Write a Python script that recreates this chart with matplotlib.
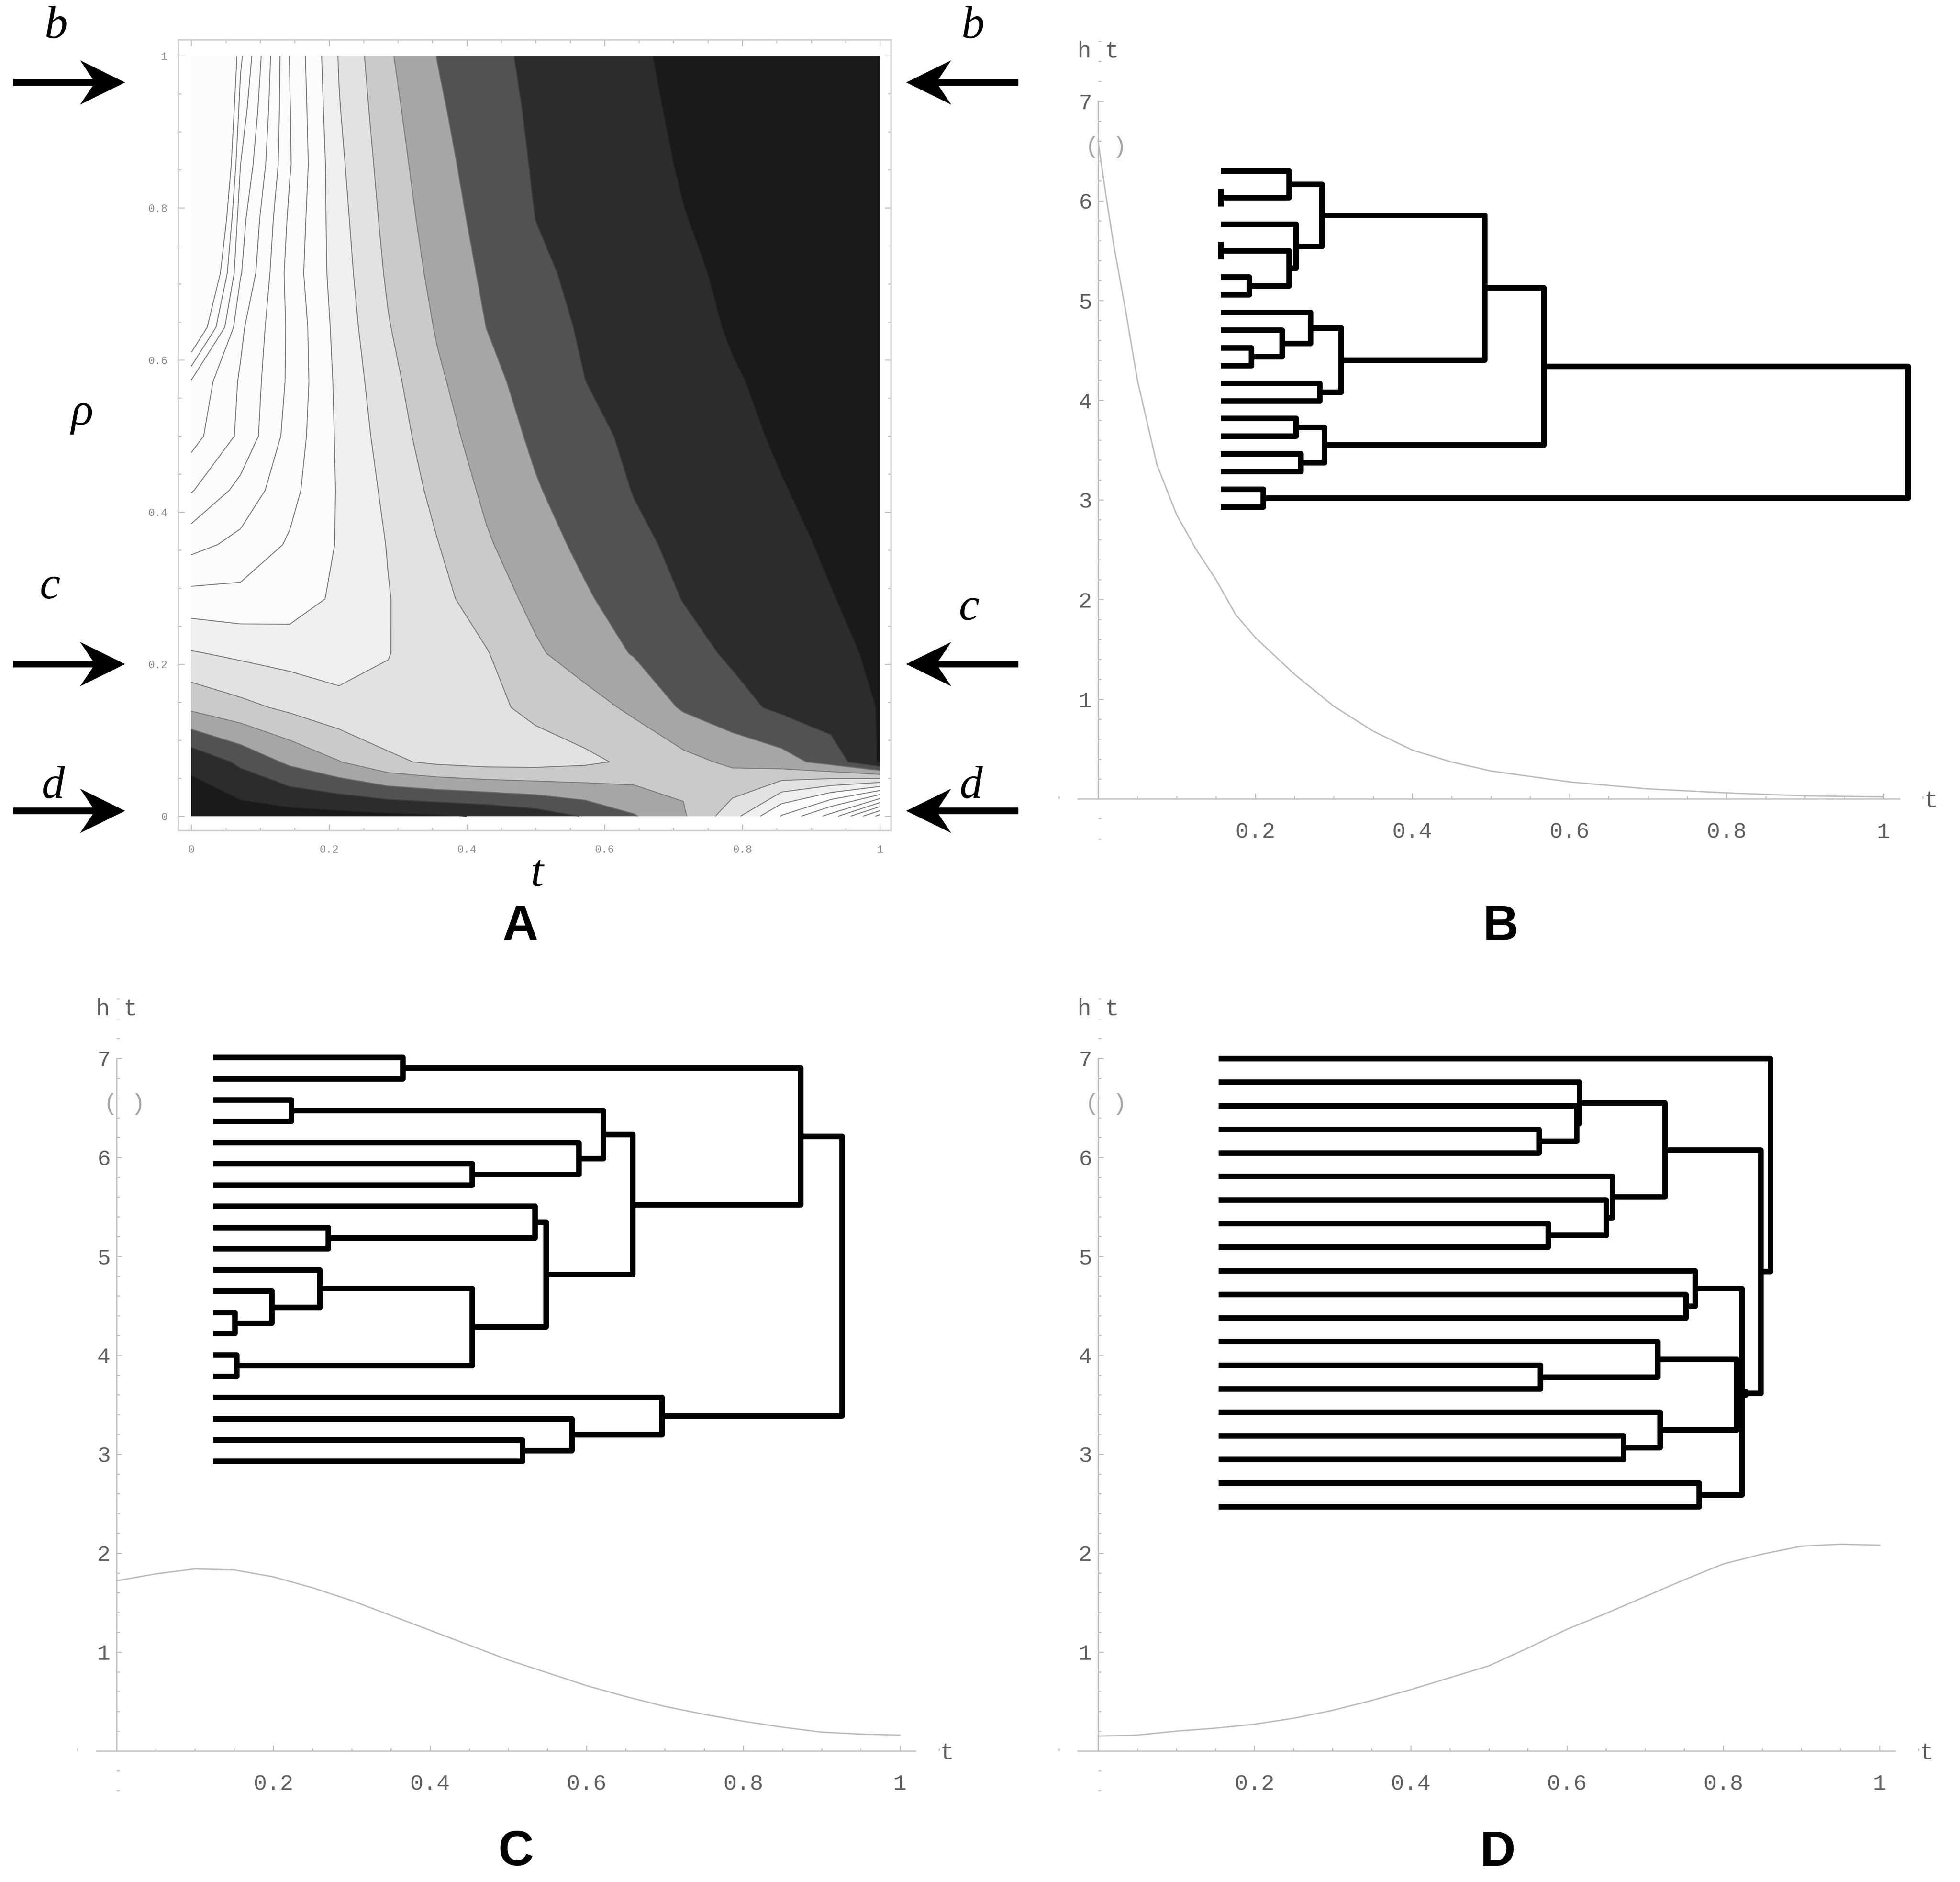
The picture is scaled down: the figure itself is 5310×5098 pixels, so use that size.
import numpy as np
import matplotlib
matplotlib.use("Agg")
import matplotlib.pyplot as plt
from matplotlib.patches import Polygon
from matplotlib.ticker import MultipleLocator

W_PX, H_PX, DPI = 5310, 5098, 300

# ---------------- Panel A: h(t, rho) ----------------
t_grid = [0.0, 0.0714, 0.1429, 0.2143, 0.2857, 0.3571, 0.4286, 0.5, 0.5714,
          0.6429, 0.7143, 0.7857, 0.8571, 0.9286, 1.0]
rho_grid = [0.0, 0.0714, 0.1429, 0.2143, 0.2857, 0.3571, 0.4286, 0.5, 0.5714,
            0.6429, 0.7143, 0.7857, 0.8571, 0.9286, 1.0]
h_r00 = [0.10, 0.12, 0.14, 0.16, 0.19, 0.22, 0.27, 0.36, 0.52, 0.73, 0.97, 1.40, 2.02, 2.60, 3.60]
h_r01 = [0.30, 0.55, 0.80, 0.99, 1.20, 1.30, 1.35, 1.35, 1.30, 1.20, 1.08, 0.95, 0.85, 0.65, 0.22]
h_r02 = [1.05, 1.18, 1.30, 1.42, 1.45, 1.40, 1.30, 1.20, 1.10, 0.95, 0.72, 0.58, 0.45, 0.35, 0.24]
h_r03 = [1.48, 1.55, 1.60, 1.62, 1.507, 1.386, 1.264, 1.034, 0.877, 0.734, 0.585, 0.464, 0.381, 0.298, 0.215]
h_r04 = [1.90, 1.92, 1.88, 1.699, 1.511, 1.325, 1.123, 0.935, 0.780, 0.632, 0.493, 0.414, 0.336, 0.257, 0.19]
h_r05 = [2.33, 2.18, 1.97, 1.729, 1.488, 1.259, 1.027, 0.851, 0.693, 0.549, 0.449, 0.373, 0.296, 0.225, 0.17]
h_r06 = [2.77, 2.42, 2.08, 1.725, 1.443, 1.179, 0.953, 0.770, 0.625, 0.491, 0.414, 0.336, 0.259, 0.195, 0.15]
h_r07 = [3.10, 2.70, 2.15, 1.708, 1.387, 1.105, 0.884, 0.706, 0.563, 0.456, 0.377, 0.299, 0.225, 0.17, 0.13]
h_r08 = [3.22, 2.72, 2.20, 1.686, 1.332, 1.042, 0.820, 0.650, 0.502, 0.422, 0.344, 0.266, 0.205, 0.155, 0.115]
h_r09 = [4.20, 2.80, 2.20, 1.653, 1.267, 0.977, 0.748, 0.596, 0.471, 0.391, 0.312, 0.233, 0.18, 0.135, 0.10]
h_r10 = [4.80, 3.02, 2.15, 1.620, 1.212, 0.922, 0.704, 0.545, 0.443, 0.363, 0.284, 0.215, 0.165, 0.125, 0.09]
h_r11 = [5.40, 3.10, 2.20, 1.589, 1.167, 0.873, 0.664, 0.498, 0.417, 0.337, 0.256, 0.195, 0.15, 0.115, 0.08]
h_r12 = [5.90, 3.25, 2.27, 1.554, 1.124, 0.830, 0.630, 0.479, 0.397, 0.315, 0.234, 0.18, 0.14, 0.10, 0.07]
h_r13 = [6.10, 3.40, 2.26, 1.515, 1.080, 0.787, 0.598, 0.463, 0.381, 0.298, 0.216, 0.165, 0.125, 0.09, 0.06]
h_r14 = [6.30, 3.55, 2.24, 1.483, 1.034, 0.745, 0.566, 0.448, 0.365, 0.282, 0.197, 0.15, 0.11, 0.08, 0.05]

contour_levels = [0.25, 0.5, 0.75, 1.0, 1.25, 1.5, 1.75, 2.0, 2.25, 2.5, 2.75, 3.0, 3.25, 3.5, 3.75]
shade_levels = [-1.0, 0.25, 0.5, 0.75, 1.0, 1.25, 1.5, 1.75, 10.0]
shade_colors = ['#1a1a1a', '#2c2c2c', '#525252', '#a6a6a6', '#cacaca', '#e2e2e2', '#efefef', '#fcfcfc']
A_ticks = [0, 0.2, 0.4, 0.6, 0.8, 1]
A_tick_labels = ['0', '0.2', '0.4', '0.6', '0.8', '1']
arrow_rho = [0.965, 0.2, 0.007]
arrow_names = ['b', 'c', 'd']

# ---------------- Panels B, C, D ----------------
t_ticks = [0.2, 0.4, 0.6, 0.8, 1.0]
t_tick_labels = ['0.2', '0.4', '0.6', '0.8', '1']
h_ticks = [1, 2, 3, 4, 5, 6, 7]
h_tick_labels = ['1', '2', '3', '4', '5', '6', '7']

B_curve_t = [0.0, 0.01, 0.02, 0.035, 0.05, 0.075, 0.1, 0.125, 0.15, 0.175, 0.2, 0.25,
             0.3, 0.35, 0.4, 0.45, 0.5, 0.6, 0.7, 0.8, 0.9, 1.0]
B_curve_h = [6.6, 6.05, 5.55, 4.9, 4.2, 3.35, 2.85, 2.5, 2.2, 1.85, 1.62, 1.25,
             0.93, 0.68, 0.49, 0.37, 0.28, 0.17, 0.10, 0.06, 0.03, 0.02]
B_leaf_t, B_leaf_top, B_leaf_bottom = 0.156, 6.30, 2.93
B_merge_a = [1, 0, 4, 6, 22, 3, 21, 10, 9, 8, 12, 29, 26, 14, 16, 33, 32, 18, 36]
B_merge_b = [2, 20, 5, 7, 23, 24, 25, 11, 27, 28, 13, 30, 31, 15, 17, 34, 35, 19, 37]
B_merge_t = [0.156, 0.243, 0.156, 0.192, 0.243, 0.252, 0.285, 0.195, 0.234, 0.270,
             0.282, 0.309, 0.492, 0.252, 0.258, 0.288, 0.567, 0.210, 1.031]

C_curve_t = [0.0, 0.05, 0.1, 0.15, 0.2, 0.25, 0.3, 0.35, 0.4, 0.45, 0.5, 0.55, 0.6,
             0.65, 0.7, 0.75, 0.8, 0.85, 0.9, 0.95, 1.0]
C_curve_h = [1.72, 1.79, 1.84, 1.83, 1.76, 1.65, 1.52, 1.37, 1.22, 1.07, 0.92, 0.79, 0.66,
             0.55, 0.45, 0.37, 0.30, 0.24, 0.19, 0.17, 0.16]
C_leaf_t, C_leaf_top, C_leaf_bottom = 0.123, 7.01, 2.93
C_merge_a = [0, 2, 5, 4, 21, 8, 7, 12, 11, 10, 14, 29, 26, 24, 20, 18, 17, 16, 34]
C_merge_b = [1, 3, 6, 22, 23, 9, 25, 13, 27, 28, 15, 30, 31, 32, 33, 19, 35, 36, 37]
C_merge_t = [0.365, 0.223, 0.454, 0.590, 0.621, 0.270, 0.534, 0.151, 0.198, 0.259,
             0.153, 0.454, 0.548, 0.659, 0.873, 0.518, 0.581, 0.696, 0.926]

D_curve_t = [0.0, 0.05, 0.1, 0.15, 0.2, 0.25, 0.3, 0.35, 0.4, 0.45, 0.5, 0.55, 0.6,
             0.65, 0.7, 0.75, 0.8, 0.85, 0.9, 0.95, 1.0]
D_curve_h = [0.15, 0.16, 0.20, 0.23, 0.27, 0.33, 0.41, 0.51, 0.62, 0.74, 0.86, 1.04, 1.23,
             1.39, 1.56, 1.73, 1.89, 1.99, 2.07, 2.09, 2.08]
D_leaf_t, D_leaf_top, D_leaf_bottom = 0.154, 7.0, 2.47
D_merge_a = [3, 2, 1, 7, 6, 5, 22, 10, 9, 13, 12, 16, 15, 18, 28, 30, 35, 26, 0]
D_merge_b = [4, 20, 21, 8, 23, 24, 25, 11, 27, 14, 29, 17, 31, 19, 33, 32, 34, 36, 37]
D_merge_t = [0.564, 0.612, 0.616, 0.576, 0.650, 0.658, 0.725, 0.752, 0.764, 0.566,
             0.716, 0.672, 0.719, 0.769, 0.824, 0.817, 0.829, 0.848, 0.860]

# ---------------- helpers ----------------
fig = plt.figure(figsize=(W_PX / DPI, H_PX / DPI), dpi=DPI)
fig.patch.set_facecolor('white')


def add_axes_px(left, top, right, bottom):
    return fig.add_axes([left / W_PX, 1 - bottom / H_PX,
                         (right - left) / W_PX, (bottom - top) / H_PX])


def ftext(x, y, s, **kw):
    fig.text(x / W_PX, 1 - y / H_PX, s, ha='center', va='center', **kw)


def arrow_px(x_tail, x_tip, y):
    L, Wd, s, notch = 122, 120, 18, 0.72
    d = 1 if x_tip > x_tail else -1
    pts = [(x_tip, y), (x_tip - d * L, y - Wd / 2), (x_tip - d * notch * L, y - s / 2),
           (x_tail, y - s / 2), (x_tail, y + s / 2), (x_tip - d * notch * L, y + s / 2),
           (x_tip - d * L, y + Wd / 2)]
    pts = [(px / W_PX, 1 - py / H_PX) for px, py in pts]
    fig.patches.append(Polygon(pts, closed=True, transform=fig.transFigure,
                               facecolor='black', edgecolor='none'))


serif_it = dict(family='Liberation Serif', style='italic', fontsize=30)
bold_sans = dict(family='Liberation Sans', weight='bold', fontsize=32)
mono = 'Liberation Mono'

# ---------------- Panel A ----------------
axA = add_axes_px(483, 108, 2414, 2250)
T, R = np.meshgrid(t_grid, rho_grid)
Z = np.array([h_r00, h_r01, h_r02, h_r03, h_r04, h_r05, h_r06, h_r07, h_r08,
              h_r09, h_r10, h_r11, h_r12, h_r13, h_r14])
axA.contourf(T, R, Z, levels=shade_levels, colors=shade_colors)
line_cols = ['#262626', '#3c3c3c', '#6a6a6a'] + ['#7a7a7a'] * 12
axA.contour(T, R, Z, levels=contour_levels, colors=line_cols, linewidths=0.6)
axA.set_xlim(-0.019, 1.016)
axA.set_ylim(-0.019, 1.021)
for sp in axA.spines.values():
    sp.set_color('#cfcfcf')
    sp.set_linewidth(1.0)
axA.set_xticks(A_ticks)
axA.set_xticklabels(A_tick_labels)
axA.set_yticks(A_ticks)
axA.set_yticklabels(A_tick_labels)
axA.xaxis.set_minor_locator(MultipleLocator(0.05))
axA.yaxis.set_minor_locator(MultipleLocator(0.05))
axA.tick_params(which='both', direction='in', top=True, right=True,
                color='#b8b8b8', width=0.6, labelsize=7, labelcolor='#8c8c8c')
axA.tick_params(which='major', length=4)
axA.tick_params(which='minor', length=2)
axA.tick_params(axis='x', pad=9)
axA.tick_params(axis='y', pad=7)
for lab in axA.get_xticklabels() + axA.get_yticklabels():
    lab.set_family(mono)

# arrows and labels b, c, d
fig.canvas.draw()
left_lab_x = [152, 135, 143]
right_lab_x = [2636, 2625, 2630]
lab_dy = [-150, -208, -64]
for rho, name, lx, rx, dy in zip(arrow_rho, arrow_names, left_lab_x, right_lab_x, lab_dy):
    disp = axA.transData.transform((0.0, rho))
    y_px = H_PX - disp[1]
    arrow_px(36, 339, y_px)
    arrow_px(2759, 2455, y_px)
    ftext(lx, y_px + dy, name, **serif_it)
    ftext(rx, y_px + dy + (58 if name == 'c' else 0), name, **serif_it)

ftext(1455, 2370, 't', **serif_it)
ftext(222, 1120, 'ρ', **serif_it)
ftext(1410, 2512, 'A', **bold_sans)


# ---------------- Panels B, C, D ----------------
def ht_panel(ox, oy, ux, uy, ct, ch, leaf_t, leaf_top, leaf_bottom, ma, mb, mt):
    xl, yl = (-0.08, 1.08), (-0.5, 7.6)
    ax = add_axes_px(ox + xl[0] * ux, oy - yl[1] * uy, ox + xl[1] * ux, oy - yl[0] * uy)
    ax.set_xlim(*xl)
    ax.set_ylim(*yl)
    ax.patch.set_alpha(0)
    for k in ('top', 'right'):
        ax.spines[k].set_visible(False)
    ax.spines['left'].set_position(('data', 0))
    ax.spines['bottom'].set_position(('data', 0))
    ax.spines['bottom'].set_bounds(-0.026, 1.02)
    ax.spines['left'].set_bounds(0, 7)
    for k in ('left', 'bottom'):
        ax.spines[k].set_color('#bdbdbd')
        ax.spines[k].set_linewidth(0.8)
    ax.set_xticks(t_ticks)
    ax.set_xticklabels(t_tick_labels)
    ax.set_yticks(h_ticks)
    ax.set_yticklabels(h_tick_labels)
    ax.xaxis.set_minor_locator(MultipleLocator(0.05))
    ax.yaxis.set_minor_locator(MultipleLocator(0.2))
    ax.tick_params(which='both', direction='in', color='#b5b5b5', width=0.6,
                   labelsize=14.5, labelcolor='#606060')
    ax.tick_params(which='major', length=3.5)
    ax.tick_params(which='minor', length=1.8)
    ax.tick_params(axis='x', pad=15)
    ax.tick_params(axis='y', pad=4)
    for lab in ax.get_xticklabels() + ax.get_yticklabels():
        lab.set_family(mono)
    # density curve
    ax.plot(ct, ch, color='#bcbcbc', lw=0.9, clip_on=False)
    # dendrogram
    n = len(ma) + 1
    pos = list(np.linspace(leaf_top, leaf_bottom, n))
    hgt = [leaf_t] * n
    for a, b, m in zip(ma, mb, mt):
        ax.plot([hgt[a], m, m, hgt[b]], [pos[a], pos[a], pos[b], pos[b]],
                color='black', lw=3.6, solid_joinstyle='round', solid_capstyle='butt',
                clip_on=False)
        pos.append((pos[a] + pos[b]) / 2)
        hgt.append(m)
    ax.text(1.06, -0.02, 't', family=mono, fontsize=15, color='#606060',
            ha='center', va='center')
    ax.text(0.0, 7.5, 'h t', family=mono, fontsize=15, color='#606060',
            ha='center', va='center')
    ax.text(0.01, 6.54, '( )', family=mono, fontsize=15, color='#a5a5a5',
            ha='center', va='center')
    return ax


ht_panel(2975, 2164, 2128, 270, B_curve_t, B_curve_h, B_leaf_t, B_leaf_top, B_leaf_bottom,
         B_merge_a, B_merge_b, B_merge_t)
ht_panel(316, 4743, 2122, 268, C_curve_t, C_curve_h, C_leaf_t, C_leaf_top, C_leaf_bottom,
         C_merge_a, C_merge_b, C_merge_t)
ht_panel(2975, 4743, 2117, 268, D_curve_t, D_curve_h, D_leaf_t, D_leaf_top, D_leaf_bottom,
         D_merge_a, D_merge_b, D_merge_t)

ftext(4065, 2512, 'B', **bold_sans)
ftext(1398, 5018, 'C', **bold_sans)
ftext(4057, 5020, 'D', **bold_sans)

fig.savefig('out.png', dpi=DPI, facecolor='white')
